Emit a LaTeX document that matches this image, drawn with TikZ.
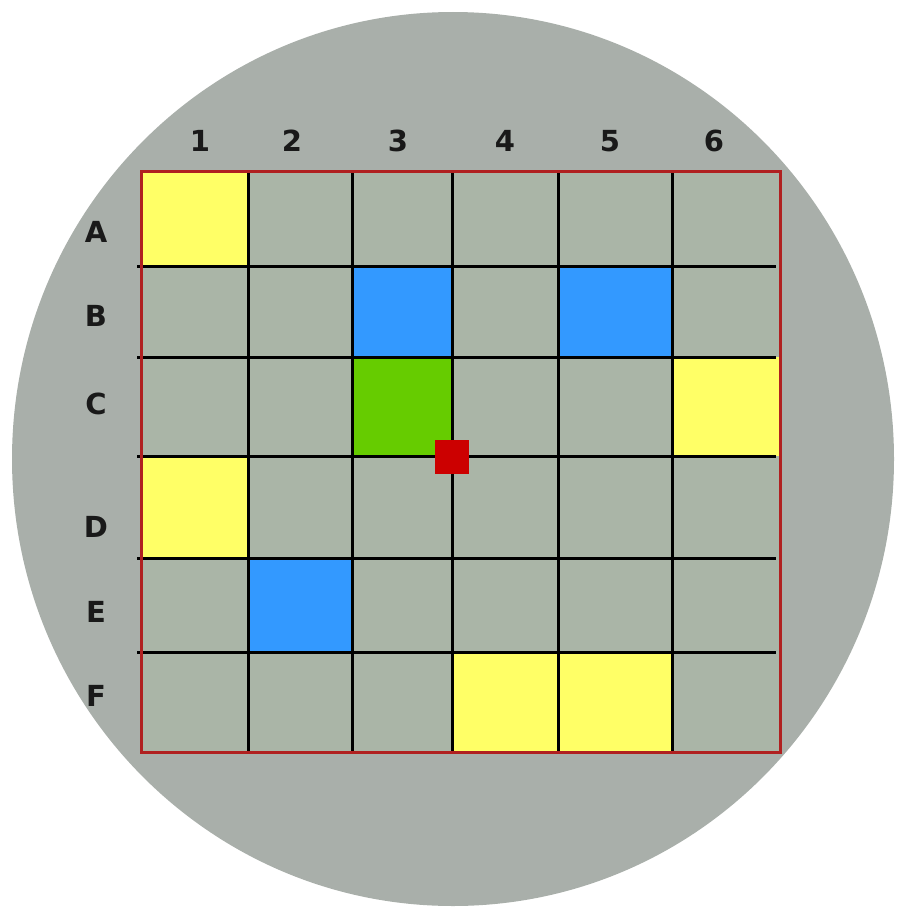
\documentclass[tikz,border=0pt]{standalone}
\usepackage{fontspec}
\setmainfont{DejaVu Sans}
\definecolor{plate}{HTML}{A9AFAA}
\definecolor{wellbg}{HTML}{AAB5A7}
\definecolor{wellyellow}{HTML}{FFFF66}
\definecolor{wellblue}{HTML}{3399FF}
\definecolor{wellgreen}{HTML}{66CC00}
\definecolor{marker}{HTML}{CC0000}
\definecolor{rim}{HTML}{B02020}
\begin{document}
\begin{tikzpicture}[x=1pt, y=-1pt,
  axislabel/.style={font=\fontsize{29}{34}\selectfont\bfseries, text=black!90, inner sep=0pt},
  gridline/.style={line width=3pt, black},
  rimline/.style={line width=3pt, rim}]
  \useasboundingbox (0,0) rectangle (902,907);
  \fill[plate] (453,459) ellipse (441 and 447);
  \fill[wellbg] (141,171) rectangle (780,752);
  % coloured wells
  \fill[wellyellow] (141,171) rectangle (248,266); % A1
  \fill[wellblue]   (352,266) rectangle (452,357); % B3
  \fill[wellblue]   (558,266) rectangle (672,357); % B5
  \fill[wellgreen]  (352,357) rectangle (452,456); % C3
  \fill[wellyellow] (672,357) rectangle (780,456); % C6
  \fill[wellyellow] (141,456) rectangle (248,558); % D1
  \fill[wellblue]   (248,558) rectangle (352,652); % E2
  \fill[wellyellow] (452,652) rectangle (558,752); % F4
  \fill[wellyellow] (558,652) rectangle (672,752); % F5
  % grid
  \foreach \x in {248,352,452,558,672}
    \draw[gridline] (\x,171) -- (\x,754);
  \foreach \y in {266,357,456,558,652}
    \draw[gridline] (137,\y) -- (776,\y);
  \draw[rimline] (141,171) rectangle (780,752);
  \fill[marker] (435,440) rectangle (469,474);
  % labels
  \foreach \n/\x in {1/200,2/292,3/398,4/505,5/610,6/714}
    \node (col\n) [axislabel] at (\x,141) {\n};
  \foreach \r/\y in {A/232,B/316,C/404,D/527,E/612,F/696}
    \node (row\r) [axislabel] at (96,\y) {\r};
\end{tikzpicture}
\end{document}
